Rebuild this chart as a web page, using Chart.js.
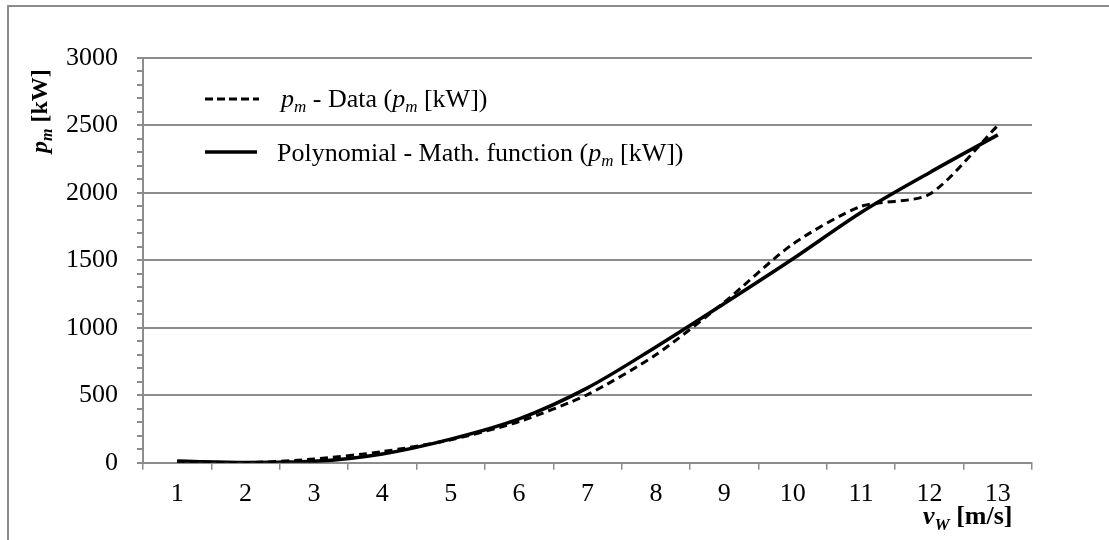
<!DOCTYPE html>
<html><head><meta charset="utf-8">
<script src="https://cdn.jsdelivr.net/npm/chart.js@4"></script>
<style>html,body{margin:0;padding:0;background:#fff}#wrap{width:1109px;height:540px;position:relative}</style>
</head><body><div id="wrap"><canvas id="c" width="1109" height="540"></canvas></div>
<script>
// ---- data ----
const categories = ['1','2','3','4','5','6','7','8','9','10','11','12','13'];
const dataValues = [8, 0, 27, 82, 170, 305, 505, 800, 1190, 1620, 1900, 1990, 2500];
const polyValues = [12, 2, 10, 65, 175, 325, 555, 858, 1180, 1510, 1855, 2150, 2430];
const yMajorTicks = [0, 500, 1000, 1500, 2000, 2500, 3000];
const seriesNames = ['p_m - Data (p_m [kW])', 'Polynomial - Math. function (p_m [kW])'];

const FONT = '"Liberation Serif", "Times New Roman", serif';
const GRID = '#8c8c8c';

function drawRich(ctx, x, y, segs) {
  let cx = x;
  for (const s of segs) {
    ctx.font = (s.style || '') + ' ' + (s.size || 26) + 'px ' + FONT;
    ctx.fillText(s.t, cx, y + (s.dy || 0));
    cx += ctx.measureText(s.t).width;
  }
  return cx - x;
}

const decorations = {
  id: 'decorations',
  beforeDraw(chart) {
    const ctx = chart.ctx;
    ctx.save();
    ctx.fillStyle = '#fff';
    ctx.fillRect(0, 0, chart.width, chart.height);
    ctx.strokeStyle = GRID;
    ctx.lineWidth = 2;
    ctx.strokeRect(8, 6, 1300, 700);
    ctx.restore();
  },
  afterDraw(chart) {
    const ctx = chart.ctx;
    ctx.save();
    ctx.fillStyle = '#000';
    ctx.textBaseline = 'alphabetic';
    ctx.textAlign = 'left';
    // legend
    ctx.strokeStyle = '#000';
    ctx.lineWidth = 3;
    ctx.setLineDash([8, 4]);
    ctx.beginPath(); ctx.moveTo(205, 99); ctx.lineTo(259, 99); ctx.stroke();
    ctx.setLineDash([]);
    ctx.lineWidth = 3.5;
    ctx.beginPath(); ctx.moveTo(205, 152); ctx.lineTo(257, 152); ctx.stroke();
    drawRich(ctx, 281, 107, [
      {t:'p', style:'italic'}, {t:'m', style:'italic', size:17, dy:5},
      {t:' - Data ('}, {t:'p', style:'italic'}, {t:'m', style:'italic', size:17, dy:5},
      {t:' [kW])'}
    ]);
    drawRich(ctx, 277, 161, [
      {t:'Polynomial - Math. function ('}, {t:'p', style:'italic'}, {t:'m', style:'italic', size:17, dy:5},
      {t:' [kW])'}
    ]);
    // x axis title
    drawRich(ctx, 923, 524, [
      {t:'v', style:'italic bold'}, {t:'W', style:'italic bold', size:17, dy:6},
      {t:' [m/s]', style:'bold'}
    ]);
    // y axis title
    ctx.translate(47, 153);
    ctx.rotate(-Math.PI / 2);
    drawRich(ctx, 0, 0, [
      {t:'p', style:'italic bold', size:24}, {t:'m', style:'italic bold', size:16, dy:5},
      {t:' [kW]', style:'bold', size:24}
    ]);
    ctx.restore();
  }
};

new Chart(document.getElementById('c'), {
  type: 'line',
  data: {
    labels: categories,
    datasets: [
      { label: seriesNames[1], data: polyValues, borderColor: '#000', borderWidth: 3.5,
        pointRadius: 0, cubicInterpolationMode: 'monotone', fill: false },
      { label: seriesNames[0], data: dataValues, borderColor: '#000', borderWidth: 3,
        borderDash: [8, 5], pointRadius: 0, tension: 0.25, fill: false }
    ]
  },
  options: {
    responsive: false,
    animation: false,
    devicePixelRatio: 1,
    layout: { padding: { top: 58, right: 77, left: 0, bottom: 0 } },
    plugins: { legend: { display: false }, tooltip: { enabled: false } },
    scales: {
      x: {
        type: 'category',
        offset: true,
        grid: { offset: true, drawOnChartArea: false, color: GRID, tickColor: GRID, tickLength: 7, lineWidth: 1.5 },
        border: { color: GRID, width: 2 },
        ticks: { color: '#000', font: { family: FONT, size: 26 }, padding: 9, maxRotation: 0, autoSkip: false },
        afterFit(s) { s.height = 77.3; }
      },
      y: {
        min: 0, max: 3000,
        grid: {
          color: (c) => (c.tick && c.tick.value % 500 === 0 && c.tick.value !== 0) ? GRID : 'rgba(0,0,0,0)',
          tickColor: GRID, tickLength: 6, lineWidth: 2
        },
        border: { color: GRID, width: 2 },
        ticks: {
          stepSize: 100, autoSkip: false, color: '#000', padding: 19,
          font: { family: FONT, size: 26 },
          callback: (v) => yMajorTicks.includes(v) ? String(v) : ''
        },
        afterFit(s) { s.width = 143; }
      }
    }
  },
  plugins: [decorations]
});
</script></body></html>
